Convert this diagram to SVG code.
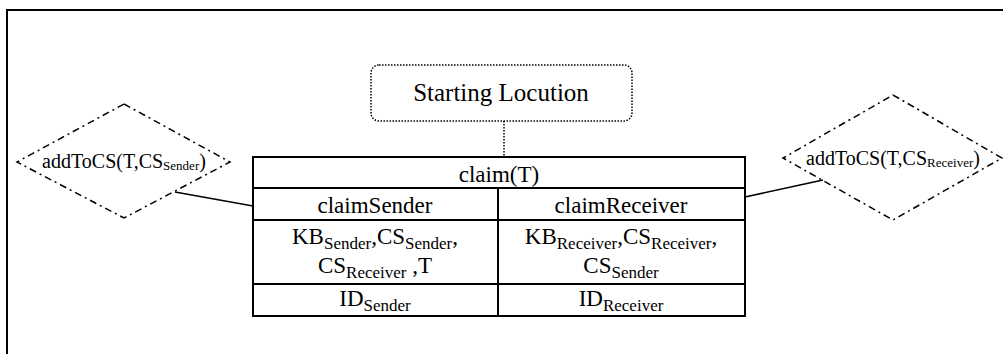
<svg xmlns="http://www.w3.org/2000/svg" width="1003" height="354" viewBox="0 0 1003 354">
<style>
text{font-family:"Liberation Serif","Times New Roman",serif;fill:#000;}
.t{font-size:23px;text-anchor:middle;}
.sl{font-size:25px;text-anchor:middle;}
.d{font-size:20px;text-anchor:middle;}
.s{font-size:17px;}
.ds{font-size:13px;}
.cell{fill:#fff;stroke:#000;stroke-width:2;}
.dia{fill:none;stroke:#000;stroke-width:1.5;stroke-dasharray:7,4,2,4;}
.conn{fill:none;stroke:#000;stroke-width:1.5;}
</style>
<rect width="1003" height="354" fill="#fff"/>
<path d="M7,354 V10 H1003" fill="none" stroke="#000" stroke-width="2"/>
<g id="connectors">
<line class="conn" x1="175" y1="192" x2="253" y2="206"/>
<line class="conn" x1="745" y1="197" x2="823" y2="180"/>
<line x1="504" y1="121" x2="504" y2="157" stroke="#000" stroke-width="1.5" stroke-dasharray="1.5,1.5"/>
</g>
<g id="start">
<rect x="371" y="65" width="261" height="56" rx="8" fill="#fff" stroke="#000" stroke-width="1.5" stroke-dasharray="1.5,1.5"/>
<text class="sl" x="501" y="101">Starting Locution</text>
</g>
<g id="addSender">
<polygon class="dia" points="124,104 230,162 124,218 17,162"/>
<text class="d" x="124" y="168">addToCS(T,CS<tspan class="ds" dy="2">Sender</tspan><tspan dy="-2">)</tspan></text>
</g>
<g id="addReceiver">
<polygon class="dia" points="893,95 1002,158 893,220 783,158"/>
<text class="d" x="893" y="165">addToCS(T,CS<tspan class="ds" dy="2">Receiver</tspan><tspan dy="-2">)</tspan></text>
</g>
<g id="claim">
<rect class="cell" x="253" y="157" width="492" height="31"/>
<text class="t" x="499" y="182">claim(T)</text>
<rect class="cell" x="253" y="188" width="245" height="32"/>
<rect class="cell" x="498" y="188" width="247" height="32"/>
<text class="t" x="375" y="213">claimSender</text>
<text class="t" x="621" y="213">claimReceiver</text>
<rect class="cell" x="253" y="220" width="245" height="64"/>
<rect class="cell" x="498" y="220" width="247" height="64"/>
<text class="t" x="375" y="244">KB<tspan class="s" dy="5">Sender</tspan><tspan dy="-5">,CS</tspan><tspan class="s" dy="5">Sender</tspan><tspan dy="-5">,</tspan></text>
<text class="t" x="375" y="273">CS<tspan class="s" dy="5">Receiver</tspan><tspan dy="-5"> ,T</tspan></text>
<text class="t" x="621" y="244">KB<tspan class="s" dy="5">Receiver</tspan><tspan dy="-5">,CS</tspan><tspan class="s" dy="5">Receiver</tspan><tspan dy="-5">,</tspan></text>
<text class="t" x="621" y="273">CS<tspan class="s" dy="5">Sender</tspan></text>
<rect class="cell" x="253" y="284" width="245" height="32"/>
<rect class="cell" x="498" y="284" width="247" height="32"/>
<text class="t" x="375" y="306">ID<tspan class="s" dy="5">Sender</tspan></text>
<text class="t" x="621" y="306">ID<tspan class="s" dy="5">Receiver</tspan></text>
</g>
</svg>
